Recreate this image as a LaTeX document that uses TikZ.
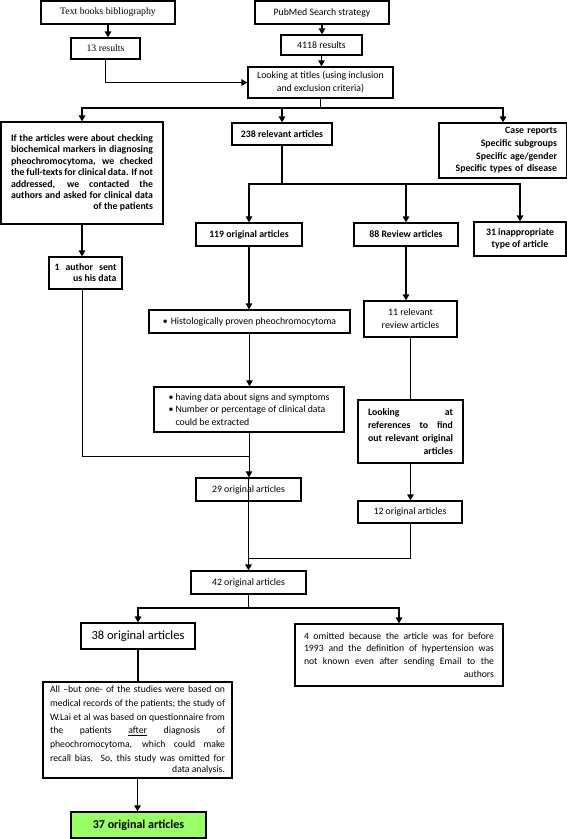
\documentclass[tikz,border=0pt]{standalone}
\usepackage{fontspec}
\setmainfont{Carlito}
\newfontfamily\tnr{Liberation Serif}
\usetikzlibrary{arrows.meta}
\newcommand\jl[2]{\makebox[#1][s]{#2}}
\newcommand\rl[2]{\makebox[#1][r]{#2}}
\definecolor{boxgreen}{RGB}{153,255,102}
\begin{document}
\begin{tikzpicture}[x=1pt,y=-1pt,
  box/.style={draw, line width=1.2pt, inner sep=0pt, fill=white},
  wh/.style 2 args={minimum width=#1pt, minimum height=#2pt},
  reg/.style={font=\fontsize{9.8}{12.5}\selectfont},
  bld/.style={font=\bfseries\fontsize{9.8}{12.5}\selectfont},
  conn/.style={line width=1.3pt},
  thin conn/.style={line width=0.8pt},
  arr/.style={conn, -{Triangle[length=6pt,width=6.5pt]}},
  thin arr/.style={thin conn, -{Triangle[length=6pt,width=6.5pt]}}]
\useasboundingbox (0,0) rectangle (567,839);

% nodes
\node[box, wh={134}{23}, font=\tnr\fontsize{9.8}{12}\selectfont] (tb) at (108,12.5) {Text books bibliography};
\node[box, wh={134}{23}, reg] (pm) at (322,12.5) {PubMed Search strategy};
\node[box, wh={69}{21}, font=\tnr\fontsize{9.8}{12}\selectfont] (r13) at (105.5,48.5) {13 results};
\node[box, wh={81}{20}, reg] (r4118) at (321.5,45) {4118 results};
\node[box, wh={145}{31}, align=center, font=\fontsize{9.8}{13}\selectfont] (look) at (320.5,82.5) {Looking at titles (using inclusion\\and exclusion criteria)};

\node[box, wh={162}{102}, align=left, font=\bfseries\fontsize{9.8}{11.4}\selectfont] (leftbox) at (82,173) {%
\jl{142pt}{If the articles were about checking}\\
\jl{142pt}{biochemical markers in diagnosing}\\
\jl{142pt}{pheochromocytoma, we checked}\\
\jl{142pt}{the full-texts for clinical data. If not}\\
\jl{142pt}{addressed, we contacted the}\\
\jl{142pt}{authors and asked for clinical data}\\
\rl{142pt}{of the patients}};
\node[box, wh={100}{22}, bld] (rel238) at (282,134) {238 relevant articles};
\node[box, wh={128}{55}, align=right, text width=108pt, font=\bfseries\fontsize{9.8}{12.7}\selectfont] (case) at (503,150.5) {Case reports\\Specific subgroups\\Specific age/gender\\Specific types of disease};

\node[box, wh={106}{23}, bld] (o119) at (249,234.5) {119 original articles};
\node[box, wh={104}{23}, bld] (r88) at (406,234.5) {88 Review articles};
\node[box, wh={92}{34}, align=center, bld] (r31) at (520,239) {31 inappropriate\\type of article};
\node[box, wh={73}{32}, align=left, font=\bfseries\fontsize{9.8}{11}\selectfont] (author) at (85.5,273) {\jl{62pt}{1 author sent}\\\rl{62pt}{us his data}};

\node[box, wh={201}{23}, reg] (hist) at (249.5,321.5) {\makebox[8pt][l]{•}Histologically proven pheochromocytoma};
\node[box, wh={93}{36}, align=center, font=\fontsize{9.8}{13}\selectfont] (rel11) at (410.5,319) {11 relevant\\review articles};
\node[box, wh={190}{45}, align=left, reg] (having) at (249,409.5) {\makebox[7pt][l]{•}having data about signs and symptoms\\
\makebox[7pt][l]{•}Number or percentage of clinical data\\
\hspace*{7pt}could be extracted};
\node[box, wh={105}{63}, align=left, font=\bfseries\fontsize{9.8}{13}\selectfont] (refs) at (410.5,431.5) {%
\jl{85pt}{Looking at}\\
\jl{85pt}{references to find}\\
\jl{85pt}{out relevant original}\\
\rl{85pt}{articles}};

\node[box, wh={105}{23}, reg] (o29) at (248.5,489.5) {29 original articles};
\node[box, wh={104}{22}, reg] (o12) at (410,512) {12 original articles};
\node[box, wh={115}{23}, reg] (o42) at (248.5,582.5) {42 original articles};
\node[box, wh={114}{26}, font=\fontsize{12.5}{14}\selectfont] (o38) at (138,636) {38 original articles};
\node[box, wh={208}{62}, align=left, font=\fontsize{9.7}{12.7}\selectfont] (omit) at (399,655) {%
\jl{190pt}{4 omitted because the article was for before}\\
\jl{190pt}{1993 and the definition of hypertension was}\\
\jl{190pt}{not known even after sending Email to the}\\
\rl{190pt}{authors}};
\node[box, wh={189}{96}, align=left, font=\fontsize{9.7}{13.8}\selectfont] (allb) at (137.5,730) {%
\jl{175pt}{All –but one- of the studies were based on}\\
\jl{175pt}{medical records of the patients; the study of}\\
\jl{175pt}{W.Lai et al was based on questionnaire from}\\
\jl{175pt}{the patients \underline{after} diagnosis of}\\
\jl{175pt}{pheochromocytoma, which could make}\\
\jl{175pt}{recall bias. So, this study was omitted for}\\[-2.8pt]
\rl{175pt}{data analysis.}};
\node[box, wh={135}{26}, fill=boxgreen, font=\bfseries\fontsize{12}{14}\selectfont] (o37) at (138.5,825) {37 original articles};

% connectors
\draw[arr] (tb.south) -- (tb.south |- r13.north);
\draw[arr] (pm.south) -- (pm.south |- r4118.north);
\draw[arr] (r4118.south) -- (r4118.south |- look.north);
\draw[arr] (r13.south) |- (look.west);
\coordinate (br1) at (320.5,108);
\draw[conn] (look.south) -- (br1);
\draw[arr] (br1) -| (leftbox.north);
\draw[arr] (br1) -| (rel238.north);
\draw[arr] (br1) -| (case.north);

\coordinate (br2) at (282,184);
\draw[conn] (rel238.south) -- (br2);
\draw[arr] (br2) -| (o119.north);
\draw[arr] (br2) -| (r88.north);
\draw[arr] (br2) -| (r31.north);

\draw[arr] (leftbox.south) -- (leftbox.south |- author.north);
\coordinate (j1) at (249,456);
\draw[thin conn] (leftbox.south |- author.south) |- (j1);
\draw[arr] (o119.south) -- (o119.south |- hist.north);
\draw[thin arr] (hist.south) -- (hist.south |- having.north);
\draw[thin arr] (having.south) -- (having.south |- o29.north);
\draw[arr] (r88.south) -- (r88.south |- rel11.north);
\draw[thin conn] (rel11.south) -- (rel11.south |- refs.north);
\draw[arr] (refs.south) -- (refs.south |- o12.north);
\coordinate (j2) at (248.5,558);
\draw[thin conn] (o12.south) |- (j2);
\draw[arr] (o29.south) -- (o29.south |- o42.north);
\draw[line width=0.6pt] (o29.north) -- (o29.south);
\coordinate (br3) at (248.5,608);
\draw[conn] (o42.south) -- (br3);
\draw[arr] (br3) -| (o38.north);
\draw[arr] (br3) -| (omit.north);
\draw[conn] (o38.south) -- (o38.south |- allb.north);
\draw[arr] (allb.south) -- (allb.south |- o37.north);
\end{tikzpicture}
\end{document}
